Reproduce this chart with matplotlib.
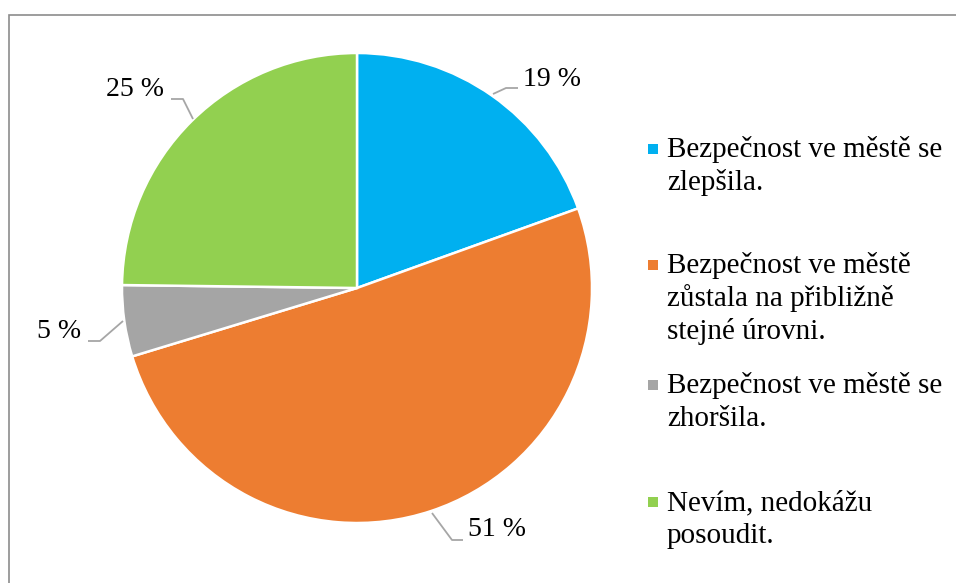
import matplotlib.pyplot as plt
from matplotlib.patches import Rectangle

plt.rcParams['font.family'] = ['Liberation Serif', 'DejaVu Serif']

# data
categories = [
    "Bezpečnost ve městě se\nzlepšila.",
    "Bezpečnost ve městě\nzůstala na přibližně\nstejné úrovni.",
    "Bezpečnost ve městě se\nzhoršila.",
    "Nevím, nedokážu\nposoudit.",
]
shares = [19.5, 50.8, 4.9, 24.8]
pct_labels = ["19 %", "51 %", "5 %", "25 %"]
colors = ["#00B0F0", "#ED7D31", "#A5A5A5", "#92D050"]

W, H = 956, 583
fig = plt.figure(figsize=(W / 100, H / 100), dpi=100)
ax = fig.add_axes([0, 0, 1, 1])


def py(y):
    # pixel row -> data y
    return H - y


cx, cy, r = 357, py(288), 235
ax.pie(shares, colors=colors, startangle=90, counterclock=False,
       center=(cx, cy), radius=r, frame=True,
       wedgeprops=dict(edgecolor="white", linewidth=1.8))
ax.set_xlim(0, W)
ax.set_ylim(0, H)
ax.set_aspect('equal')
ax.axis('off')

# chart frame
ax.add_patch(Rectangle((9, py(600)), 1000, 585, fill=False,
                       edgecolor="#8C8C8C", linewidth=1.2))

# data labels with leader lines
label_pos = [(523, 79, 'left'), (468, 530, 'left'), (81, 331, 'right'), (164, 90, 'right')]
leaders = [
    [(493, 94), (506, 88), (518, 88)],
    [(432, 513), (452, 540), (463, 540)],
    [(123, 321), (100, 341), (88, 341)],
    [(193, 119), (183, 99), (171, 99)],
]
for txt, (lx, ly, ha), path in zip(pct_labels, label_pos, leaders):
    ax.text(lx, py(ly), txt, fontsize=20, ha=ha, va='center', color="black")
    xs = [p[0] for p in path]
    ys = [py(p[1]) for p in path]
    ax.plot(xs, ys, color="#A6A6A6", linewidth=1.3, solid_capstyle='butt')

# legend drawn by hand (uneven spacing like the original)
legend_base = [157, 273, 393, 510]
line_step = 33
for lab, col, base in zip(categories, colors, legend_base):
    ax.add_patch(Rectangle((648, py(base - 8) - 5), 10, 10, facecolor=col, edgecolor='none'))
    for i, line in enumerate(lab.split("\n")):
        ax.text(667, py(base + i * line_step), line, fontsize=21,
                ha='left', va='baseline', color="black")

fig.savefig("out.png", dpi=100)
